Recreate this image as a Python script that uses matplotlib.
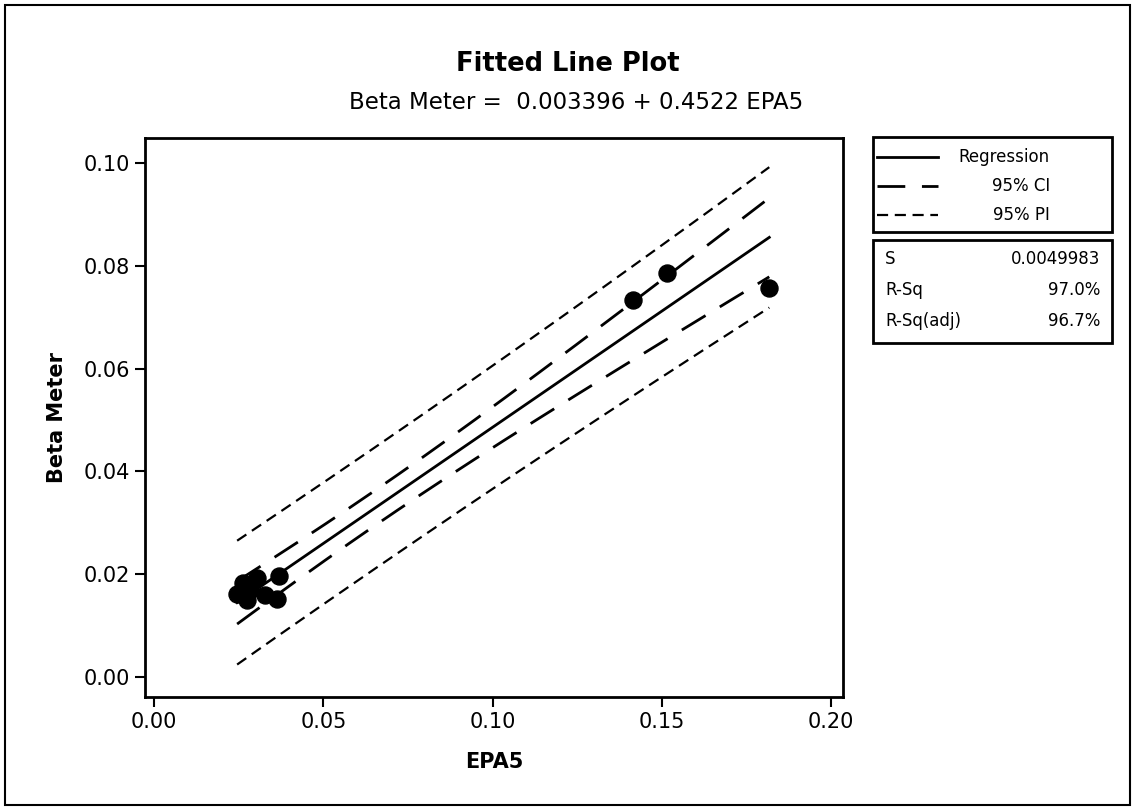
import numpy as np
import matplotlib.pyplot as plt
from matplotlib.patches import Rectangle
from matplotlib.lines import Line2D

# data
epa5 = [0.0245, 0.0274, 0.0263, 0.0304, 0.0327, 0.0363, 0.0369, 0.0283,
        0.1413, 0.1516, 0.1817]
beta = [0.0161, 0.0150, 0.0183, 0.0193, 0.0160, 0.0152, 0.0196, 0.0169,
        0.0733, 0.0786, 0.0757]
b0, b1 = 0.003396, 0.4522
s_val = 0.0049983
stats_labels = ["S", "R-Sq", "R-Sq(adj)"]
stats_values = ["0.0049983", "97.0%", "96.7%"]
xticks = [0.0, 0.05, 0.10, 0.15, 0.20]
yticks = [0.0, 0.02, 0.04, 0.06, 0.08, 0.10]

x = np.array(epa5)
y = np.array(beta)
n = len(x)
xbar = x.mean()
sxx = ((x - xbar) ** 2).sum()
t = 2.262  # t(0.975, n-2)

xs = np.linspace(x.min(), x.max(), 200)
fit = b0 + b1 * xs
se_fit = s_val * np.sqrt(1.0 / n + (xs - xbar) ** 2 / sxx)
se_pred = s_val * np.sqrt(1.0 + 1.0 / n + (xs - xbar) ** 2 / sxx)

fig = plt.figure(figsize=(11.35, 8.09), dpi=100)
ax = fig.add_axes([0.1278, 0.1384, 0.615, 0.691])

ax.plot(xs, fit, color="black", lw=2)
ax.plot(xs, fit + t * se_fit, color="black", lw=2, dashes=(10, 6))
ax.plot(xs, fit - t * se_fit, color="black", lw=2, dashes=(10, 6))
ax.plot(xs, fit + t * se_pred, color="black", lw=1.6, dashes=(5, 3))
ax.plot(xs, fit - t * se_pred, color="black", lw=1.6, dashes=(5, 3))
ax.scatter(x, y, s=150, color="black", zorder=5)

ax.set_xlim(-0.0027, 0.2035)
ax.set_ylim(-0.0039, 0.1049)
ax.set_xticks(xticks)
ax.set_xticklabels(["%.2f" % v for v in xticks])
ax.set_yticks(yticks)
ax.set_yticklabels(["%.2f" % v for v in yticks])
ax.tick_params(direction="out", length=7, width=1.5, labelsize=15, pad=4)
for sp in ax.spines.values():
    sp.set_linewidth(2)
ax.set_xlabel("EPA5", fontsize=15, fontweight="bold", labelpad=14)
ax.set_ylabel("Beta Meter", fontsize=15, fontweight="bold", labelpad=12)

fig.text(0.5, 0.912, "Fitted Line Plot", ha="center", fontsize=18.5, fontweight="bold")
fig.text(0.508, 0.865, "Beta Meter =  0.003396 + 0.4522 EPA5", ha="center", fontsize=16.5)

# legend box
def fx(px):
    return px / 1135.0

def fy(py):
    return 1 - py / 809.0

fig.patches.append(Rectangle((fx(873), fy(232)), fx(1112) - fx(873), fy(137) - fy(232),
                             transform=fig.transFigure, fill=False, lw=2, color="black"))
fig.patches.append(Rectangle((fx(873), fy(343)), fx(1112) - fx(873), fy(240) - fy(343),
                             transform=fig.transFigure, fill=False, lw=2, color="black"))
leg = [("Regression", None, 2), ("95% CI", (10, 6), 2), ("95% PI", (5, 3), 1.6)]
for i, (lab, ds, lw) in enumerate(leg):
    yy = fy(157 + i * 29)
    ln = Line2D([fx(877), fx(938)], [yy, yy], transform=fig.transFigure, color="black", lw=lw)
    if ds:
        ln.set_dashes(ds)
    fig.lines.append(ln)
    fig.text(fx(1050), yy, lab, ha="right", va="center", fontsize=12)
for i in range(3):
    yy = fy(259 + i * 31)
    fig.text(fx(885), yy, stats_labels[i], ha="left", va="center", fontsize=12)
    fig.text(fx(1100), yy, stats_values[i], ha="right", va="center", fontsize=12)

fig.patches.append(Rectangle((fx(5), fy(805)), fx(1130) - fx(5), fy(5) - fy(805),
                             transform=fig.transFigure, fill=False, lw=1.5, color="black"))

fig.savefig("out.png", dpi=100)
